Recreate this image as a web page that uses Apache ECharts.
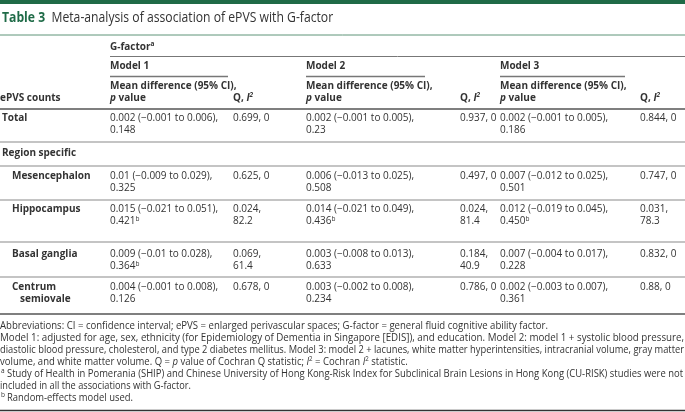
<!DOCTYPE html>
<html><head><meta charset="utf-8">
<script src="https://cdn.jsdelivr.net/npm/echarts@6/dist/echarts.min.js"></script>
<style>html,body{margin:0;padding:0;background:#fff}#c{width:685px;height:412px}</style>
</head><body><div id="c"></div>
<script>
// ---- table content ----
const titleLabel = 'Table 3';
const titleText = 'Meta-analysis of association of ePVS with G-factor';
const groupHeader = 'G-factor';
const groupHeaderNote = 'a';
const modelNames = ['Model 1', 'Model 2', 'Model 3'];
const firstColHeader = 'ePVS counts';
const rowLabels = ['Total', 'Mesencephalon', 'Hippocampus', 'Basal ganglia', 'Centrum semiovale'];
const sectionLabel = 'Region specific';
const sectionAfterRow = 0;

const m1Est = ['0.002', '0.01', '0.015', '0.009', '0.004'];
const m1CI = ['−0.001 to 0.006', '−0.009 to 0.029', '−0.021 to 0.051', '−0.01 to 0.028', '−0.001 to 0.008'];
const m1P = ['0.148', '0.325', '0.421', '0.364', '0.126'];
const m1Q = ['0.699', '0.625', '0.024', '0.069', '0.678'];
const m1I2 = ['0', '0', '82.2', '61.4', '0'];
const m1Random = [false, false, true, true, false];

const m2Est = ['0.002', '0.006', '0.014', '0.003', '0.003'];
const m2CI = ['−0.001 to 0.005', '−0.013 to 0.025', '−0.021 to 0.049', '−0.008 to 0.013', '−0.002 to 0.008'];
const m2P = ['0.23', '0.508', '0.436', '0.633', '0.234'];
const m2Q = ['0.937', '0.497', '0.024', '0.184', '0.786'];
const m2I2 = ['0', '0', '81.4', '40.9', '0'];
const m2Random = [false, false, true, false, false];

const m3Est = ['0.002', '0.007', '0.012', '0.007', '0.002'];
const m3CI = ['−0.001 to 0.005', '−0.012 to 0.025', '−0.019 to 0.045', '−0.004 to 0.017', '−0.003 to 0.007'];
const m3P = ['0.186', '0.501', '0.450', '0.228', '0.361'];
const m3Q = ['0.844', '0.747', '0.031', '0.832', '0.88'];
const m3I2 = ['0', '0', '78.3', '0', '0'];
const m3Random = [false, false, true, false, false];

const footLines = [
  'Abbreviations: CI = confidence interval; ePVS = enlarged perivascular spaces; G-factor = general fluid cognitive ability factor.',
  'Model 1: adjusted for age, sex, ethnicity (for Epidemiology of Dementia in Singapore [EDIS]), and education. Model 2: model 1 + systolic blood pressure,',
  'diastolic blood pressure, cholesterol, and type 2 diabetes mellitus. Model 3: model 2 + lacunes, white matter hyperintensities, intracranial volume, gray matter',
  'volume, and white matter volume. Q = {i|p} value of Cochran Q statistic; {i|I}{sup|2} = Cochran {i|I}{sup|2} statistic.',
  'Study of Health in Pomerania (SHIP) and Chinese University of Hong Kong-Risk Index for Subclinical Brain Lesions in Hong Kong (CU-RISK) studies were not',
  'included in all the associations with G-factor.',
  'Random-effects model used.'
];
const footMarks = ['', '', '', '', 'a', '', 'b'];

// ---- layout & style ----
const W = 685;
const FONT = '"Open Sans", "Noto Sans", sans-serif';
const TXT = '#333333';
const GREEN = '#1f6b47';
const FS = 10, LH = 12.5;
const colX = { label: 2, est: [110, 306, 500], q: [233, 460, 640] };
const modelRuleEnd = [228, 425, 625];
const rowTop = [118, 176, 209, 254, 287];
const sectionY = 153;
const rowRules = [142, 166, 200, 242, 277];
const footY = [326, 338, 350, 362, 374, 386, 398];
const footX0 = [0, 0, 0, 0, 7, 0, 7];
const footX1 = [548, 684, 684, 412, 683, 191, 133];

const models = [
  { est: m1Est, ci: m1CI, p: m1P, q: m1Q, i2: m1I2, rnd: m1Random },
  { est: m2Est, ci: m2CI, p: m2P, q: m2Q, i2: m2I2, rnd: m2Random },
  { est: m3Est, ci: m3CI, p: m3P, q: m3Q, i2: m3I2, rnd: m3Random }
];

const rich = {
  sup: { fontSize: 6.5, fontFamily: FONT, fill: TXT, verticalAlign: 'top', lineHeight: LH },
  i: { fontStyle: 'italic', fontSize: FS, fontFamily: FONT, fill: TXT, lineHeight: LH },
  bi: { fontStyle: 'italic', fontWeight: 'bold', fontSize: FS, fontFamily: FONT, fill: TXT, lineHeight: LH },
  bsup: { fontStyle: 'italic', fontWeight: 'bold', fontSize: 6.5, fontFamily: FONT, fill: TXT, verticalAlign: 'top', lineHeight: LH },
  bs: { fontWeight: 'bold', fontSize: 6.5, fontFamily: FONT, fill: TXT, verticalAlign: 'top', lineHeight: LH }
};

const els = [];
// yFirst = vertical centre of the first text line
function txt(x, yFirst, text, opt) {
  opt = opt || {};
  const el = {
    type: 'text', x: x, y: yFirst - LH / 2, silent: true,
    style: {
      text: text, fill: TXT, fontSize: FS, fontFamily: FONT, fontWeight: opt.bold ? 'bold' : 'normal',
      align: 'left', verticalAlign: 'top', lineHeight: LH, rich: rich
    }
  };
  if (opt.scaleX) { el.scaleX = opt.scaleX; el.originX = 0; el.originY = 0; }
  els.push(el);
}
function rule(x1, x2, y, color, w) {
  els.push({ type: 'line', silent: true, shape: { x1: x1, y1: y, x2: x2, y2: y }, style: { stroke: color, lineWidth: w } });
}

// top bar & title
els.push({ type: 'rect', silent: true, shape: { x: 0, y: 0, width: W, height: 4 }, style: { fill: GREEN } });
els.push({ type: 'text', x: 2, y: 18, scaleX: 0.84, silent: true, style: { text: '{g|' + titleLabel + '}  ' + titleText, fill: '#333', fontSize: 14.5, fontFamily: FONT, verticalAlign: 'middle', rich: { g: { fill: GREEN, fontWeight: 'bold', fontSize: 14.5, fontFamily: FONT } } } });
rule(0, W, 35, '#5e9479', 1);

// header
txt(colX.est[0], 47, groupHeader + '{bs|' + groupHeaderNote + '}', { bold: true });
rule(colX.est[0], W, 56.5, '#777', 1);
modelNames.forEach((m, k) => {
  txt(colX.est[k], 66, m, { bold: true });
  rule(colX.est[k], modelRuleEnd[k], 76.5, '#777', 1.3);
  txt(colX.est[k], 86, 'Mean difference (95% CI),\n{bi|p} value', { bold: true });
  txt(colX.q[k], 98, 'Q, {bi|I}{bsup|2}', { bold: true });
});
txt(0, 98, firstColHeader, { bold: true });
rule(0, W, 109, '#555', 1.5);

// body rows
rowLabels.forEach((lab, r) => {
  const indent = r > sectionAfterRow ? 10 : 0;
  const y = rowTop[r];
  if (lab.length > 15) {
    const parts = lab.split(' ');
    txt(colX.label + indent, y, parts[0], { bold: true });
    txt(colX.label + indent + 8, y + LH, parts.slice(1).join(' '), { bold: true });
  } else {
    txt(colX.label + indent, y, lab, { bold: true });
  }
  models.forEach((m, k) => {
    txt(colX.est[k], y, m.est[r] + ' (' + m.ci[r] + '),\n' + m.p[r] + (m.rnd[r] ? '{sup|b}' : ''));
    const qt = m.i2[r] === '0' ? m.q[r] + ', ' + m.i2[r] : m.q[r] + ',\n' + m.i2[r];
    txt(colX.q[k], y, qt);
  });
});
txt(colX.label, sectionY, sectionLabel, { bold: true });
rowRules.forEach(y => rule(0, W, y, '#8a8a8a', 1.2));
rule(0, W, 314, '#555', 1.5);

// footnotes: each line fitted to its width in the source
const mctx = document.createElement('canvas').getContext('2d');
mctx.font = 'normal normal ' + FS + 'px ' + FONT;
footLines.forEach((line, i) => {
  const plain = line.replace(/\{\w+\|([^}]*)\}/g, '$1');
  const natural = mctx.measureText(plain).width;
  const s = (footX1[i] - footX0[i]) / natural;
  txt(footX0[i], footY[i], line, { scaleX: s });
  if (footMarks[i]) txt(1, footY[i], '{sup|' + footMarks[i] + '}');
});
rule(0, W, 410.5, '#333', 1.5);

const chart = echarts.init(document.getElementById('c'), null, { renderer: 'canvas' });
chart.setOption({ animation: false, graphic: { elements: els } });
</script></body></html>
